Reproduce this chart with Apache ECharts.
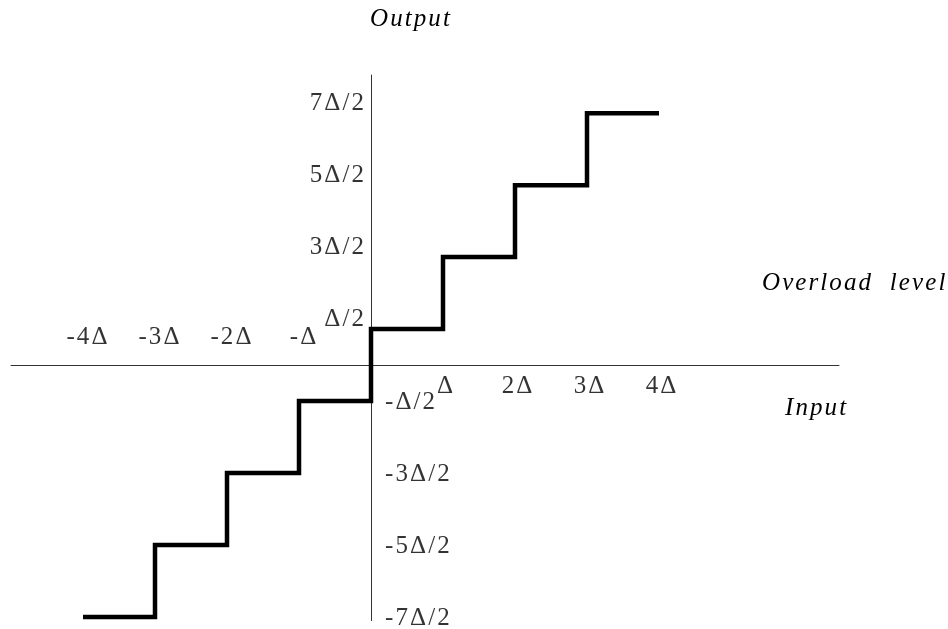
<!DOCTYPE html>
<html>
<head>
<meta charset="utf-8">
<script src="https://cdn.jsdelivr.net/npm/echarts@6/dist/echarts.min.js"></script>
<style>
html,body{margin:0;padding:0;background:#fff;}
#chart{width:948px;height:629px;}
</style>
</head>
<body>
<div id="chart"></div>
<script>
// Staircase (mid-rise quantizer) characteristic, in units of Δ
const stepInput  = [-4, -3, -3, -2, -2, -1, -1, 0, 0, 1, 1, 2, 2, 3, 3, 4];
const stepOutput = [-3.5, -3.5, -2.5, -2.5, -1.5, -1.5, -0.5, -0.5, 0.5, 0.5, 1.5, 1.5, 2.5, 2.5, 3.5, 3.5];

// Tick labels on the input axis
const xTickValues = [-4, -3, -2, -1, 1, 2, 3, 4];
const xTickLabels = ['-4Δ', '-3Δ', '-2Δ', '-Δ', 'Δ', '2Δ', '3Δ', '4Δ'];

// Tick labels on the output axis
const yTickValues = [3.5, 2.5, 1.5, 0.5, -0.5, -1.5, -2.5, -3.5];
const yTickLabels = ['7Δ/2', '5Δ/2', '3Δ/2', 'Δ/2', '-Δ/2', '-3Δ/2', '-5Δ/2', '-7Δ/2'];

const axisTitleX = 'Input';
const axisTitleY = 'Output';
const overloadTitle = 'Overload  level';

const FONT = '"Liberation Serif", "DejaVu Serif", serif';
const spaced = s => s.split('').join('\u200A');
const tight = s => s.split('').join('\u200A');

const chart = echarts.init(document.getElementById('chart'), null, {renderer: 'canvas'});

const lineData = stepInput.map((x, i) => [x, stepOutput[i]]);

const xLabelData = xTickValues.map((v, i) => ({
  value: [v, 0],
  label: {
    formatter: tight(xTickLabels[i]),
    offset: v < 0 ? [4, -28] : [2, 21]
  }
}));

const yLabelData = yTickValues.map((v, i) => ({
  value: [0, v],
  label: v > 0
    ? {formatter: tight(yTickLabels[i]), position: 'left', distance: 7, offset: [0, -10]}
    : {formatter: tight(yTickLabels[i]), position: 'right', distance: 14, offset: [0, 1]}
}));

const labelStyle = {
  show: true,
  color: '#000',
  fontFamily: FONT,
  fontSize: 25
};

const option = {
  animation: false,
  backgroundColor: '#fff',
  grid: {left: 11, right: 109, top: 75, bottom: 8.4, containLabel: false},
  xAxis: {
    type: 'value',
    min: -5, max: 6.5,
    axisLine: {show: true, onZero: true, lineStyle: {color: '#333', width: 1}},
    axisTick: {show: false},
    axisLabel: {show: false},
    splitLine: {show: false}
  },
  yAxis: {
    type: 'value',
    min: -3.55, max: 4.03,
    axisLine: {show: true, onZero: true, lineStyle: {color: '#333', width: 1}},
    axisTick: {show: false},
    axisLabel: {show: false},
    splitLine: {show: false}
  },
  graphic: [
    {type: 'text', left: 370, top: 7,
     style: {text: spaced(axisTitleY), font: 'italic 25px ' + FONT, fill: '#000'}},
    {type: 'text', left: 785, top: 396,
     style: {text: spaced(axisTitleX), font: 'italic 25px ' + FONT, fill: '#000'}},
    {type: 'text', left: 762, top: 271,
     style: {text: spaced(overloadTitle), font: 'italic 25px ' + FONT, fill: '#000'}}
  ],
  series: [
    {
      type: 'line',
      data: lineData,
      symbol: 'none',
      lineStyle: {color: '#000', width: 4.5, join: 'miter', cap: 'butt'},
      z: 3
    },
    {
      type: 'scatter',
      data: xLabelData,
      symbolSize: 0,
      label: Object.assign({position: 'inside'}, labelStyle),
      z: 4
    },
    {
      type: 'scatter',
      data: yLabelData,
      symbolSize: 0,
      label: labelStyle,
      z: 4
    }
  ]
};

chart.setOption(option);
</script>
</body>
</html>
